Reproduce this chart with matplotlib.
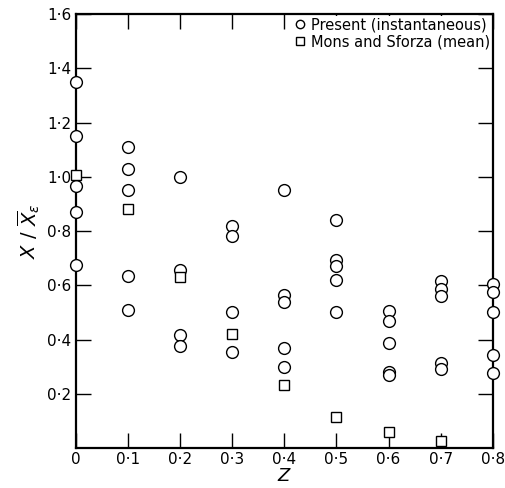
import matplotlib
matplotlib.use("Agg")
import matplotlib.pyplot as plt

# Present (instantaneous) data
z_present = [0, 0, 0, 0, 0,
             0.1, 0.1, 0.1, 0.1, 0.1,
             0.2, 0.2, 0.2, 0.2,
             0.3, 0.3, 0.3, 0.3,
             0.4, 0.4, 0.4, 0.4, 0.4,
             0.5, 0.5, 0.5, 0.5, 0.5,
             0.6, 0.6, 0.6, 0.6, 0.6,
             0.7, 0.7, 0.7, 0.7, 0.7,
             0.8, 0.8, 0.8, 0.8, 0.8]
x_present = [1.35, 1.15, 0.965, 0.87, 0.675,
             1.11, 1.03, 0.95, 0.633, 0.508,
             1.0, 0.655, 0.415, 0.376,
             0.82, 0.78, 0.501, 0.354,
             0.952, 0.566, 0.538, 0.368, 0.299,
             0.84, 0.695, 0.673, 0.621, 0.501,
             0.505, 0.468, 0.389, 0.28, 0.268,
             0.615, 0.588, 0.56, 0.315, 0.29,
             0.603, 0.575, 0.501, 0.342, 0.278]

# Mons and Sforza (mean) data
z_mons = [0, 0.1, 0.2, 0.3, 0.4, 0.5, 0.6, 0.7]
x_mons = [1.005, 0.88, 0.63, 0.42, 0.233, 0.115, 0.06, 0.025]

xticks = [0, 0.1, 0.2, 0.3, 0.4, 0.5, 0.6, 0.7, 0.8]
xlabels = ["0", "0·1", "0·2", "0·3", "0·4", "0·5", "0·6", "0·7", "0·8"]
yticks = [0.2, 0.4, 0.6, 0.8, 1.0, 1.2, 1.4, 1.6]
ylabels = ["0·2", "0·4", "0·6", "0·8", "1·0", "1·2", "1·4", "1·6"]

fig = plt.figure(figsize=(5.05, 4.88), dpi=100)
ax = fig.add_axes([0.150, 0.082, 0.826, 0.889])

ax.plot(z_present, x_present, "o", ms=8.5, mfc="white", mec="black", mew=1.0,
        clip_on=False, zorder=3, label="Present (instantaneous)")
ax.plot(z_mons, x_mons, "s", ms=7, mfc="white", mec="black", mew=1.0,
        clip_on=False, zorder=3, label="Mons and Sforza (mean)")

ax.set_xlim(0, 0.8)
ax.set_ylim(0, 1.6)
ax.set_xticks(xticks)
ax.set_xticklabels(xlabels)
ax.set_yticks(yticks)
ax.set_yticklabels(ylabels)
ax.tick_params(direction="in", length=11, width=1.0, labelsize=11,
               top=True, right=True, pad=3)
for s in ax.spines.values():
    s.set_linewidth(1.6)

ax.set_xlabel("$Z$", fontsize=13, labelpad=0)
ax.set_ylabel(r"$X\ /\ \overline{X}_{\varepsilon}$", fontsize=14, labelpad=4)

# white box with no edge so the top ticks don't run through the text
leg = ax.legend(loc="upper right", bbox_to_anchor=(0.996, 0.995), frameon=True,
                fancybox=False, framealpha=1, facecolor="white", edgecolor="none",
                fontsize=10.5, handletextpad=0.3, borderaxespad=0.0,
                handlelength=1.0, labelspacing=0.15, borderpad=0.05)
leg.set_zorder(5)
for h in leg.legend_handles:
    h.set_markersize(6)

fig.savefig("out.png", dpi=100)
